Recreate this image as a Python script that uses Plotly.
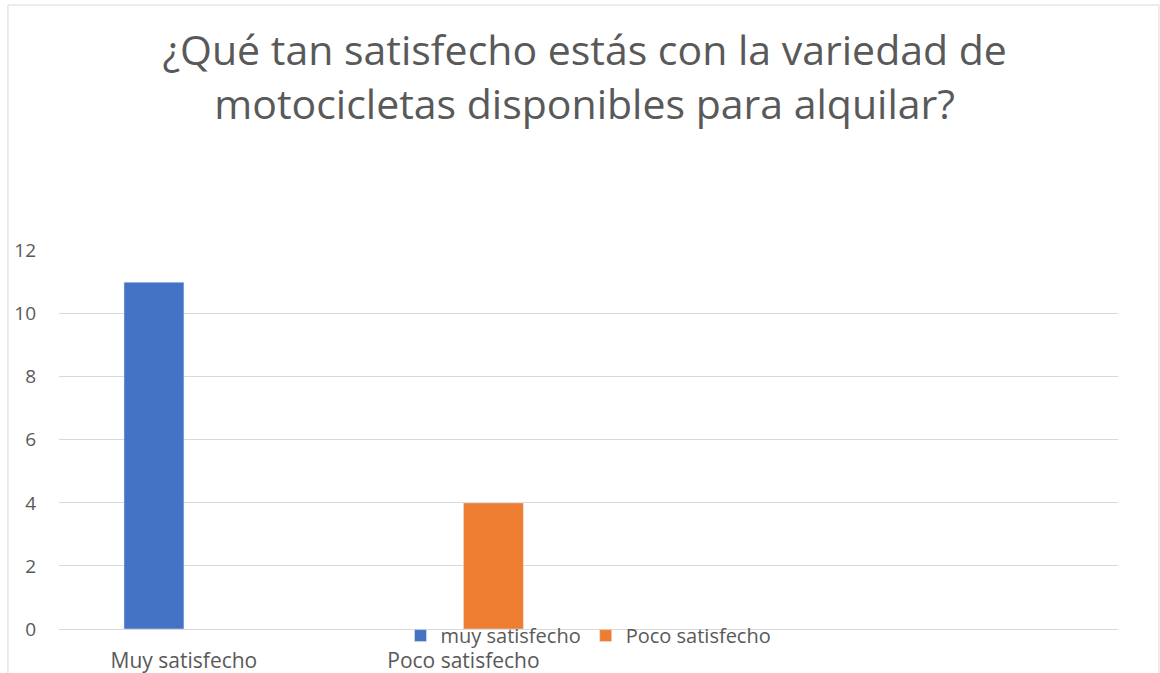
import plotly.graph_objects as go

categorias = ["Muy satisfecho", "Poco satisfecho"]
serie_muy = [11, None]
serie_poco = [None, 4]
nombres = ["muy satisfecho", "Poco satisfecho"]
colores = ["#4472C4", "#ED7D31"]

titulo = "¿Qué tan satisfecho estás con la variedad de<br>motocicletas disponibles para alquilar?"

fig = go.Figure()
fig.add_trace(go.Bar(x=categorias, y=serie_muy, name=nombres[0], marker_color=colores[0]))
fig.add_trace(go.Bar(x=categorias, y=serie_poco, name=nombres[1], marker_color=colores[1]))

fuente = "Open Sans, Calibri, sans-serif"
gris = "#595959"

fig.update_layout(
    width=1160, height=673,
    barmode="group", bargap=0.571, bargroupgap=0,
    paper_bgcolor="white", plot_bgcolor="white",
    margin=dict(l=59, r=42, t=250, b=44, autoexpand=False),
    font=dict(family=fuente, color=gris, size=19),
    title=dict(text=titulo, x=0.504, xanchor="center", y=0.903, yanchor="top",
               font=dict(size=41, color=gris, family=fuente)),
    legend=dict(orientation="h", x=0.5, xanchor="center", y=0.034, yanchor="top",
                font=dict(size=20, color=gris), bgcolor="rgba(0,0,0,0)"),
    shapes=[dict(type="rect", xref="paper", yref="paper",
                 x0=-0.0482, x1=1.0387, y0=-0.3, y1=1.6464,
                 line=dict(color="#d9d9d9", width=1), layer="below")],
)
fig.update_xaxes(type="category", range=[-0.447, 3.342], showgrid=False,
                 showline=True, linecolor="#d9d9d9", linewidth=1,
                 ticks="", ticklabelstandoff=13, tickfont=dict(size=21, color=gris))
fig.update_yaxes(range=[0, 12.02], dtick=2, showgrid=True, gridcolor="#d9d9d9",
                 gridwidth=1, zeroline=False, showline=False, ticks="",
                 ticklabelstandoff=22, tickfont=dict(size=19, color=gris))

fig.write_html("out.html", config={"displayModeBar": False},
               post_script="document.body.style.margin='0';")
